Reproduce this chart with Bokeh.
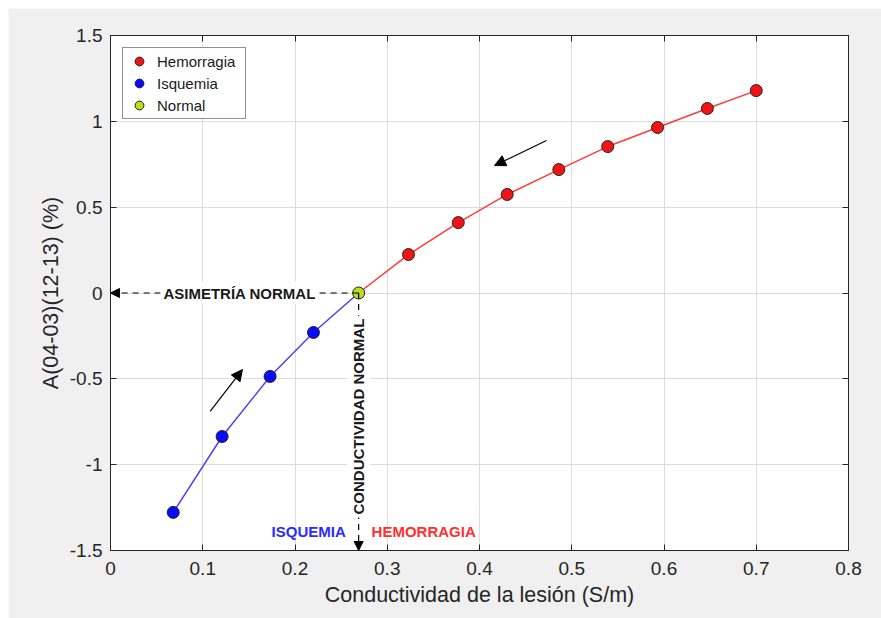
from bokeh.plotting import figure
from bokeh.models import Range1d, FixedTicker, LinearAxis, Label, Arrow, NormalHead
from bokeh.embed import file_html
from bokeh.resources import INLINE
import math

# ---- data ----
isq_x = [0.068, 0.121, 0.173, 0.220]
isq_y = [-1.278, -0.836, -0.486, -0.230]
norm_x = [0.269]
norm_y = [0.0]
hem_x = [0.323, 0.377, 0.430, 0.486, 0.539, 0.593, 0.647, 0.700]
hem_y = [0.224, 0.410, 0.574, 0.719, 0.853, 0.964, 1.075, 1.179]

x_ticks = [0, 0.1, 0.2, 0.3, 0.4, 0.5, 0.6, 0.7, 0.8]
x_tick_labels = ["0", "0.1", "0.2", "0.3", "0.4", "0.5", "0.6", "0.7", "0.8"]
y_ticks = [-1.5, -1, -0.5, 0, 0.5, 1, 1.5]
y_tick_labels = ["-1.5", "-1", "-0.5", "0", "0.5", "1", "1.5"]

# direction arrows (start x, start y, end x, end y)
arrow_up = [0.108, -0.69, 0.143, -0.446]
arrow_down = [0.4726, 0.888, 0.4163, 0.7426]

FONT = "Liberation Sans"
AX = "#262626"

p = figure(width=873, height=610, output_backend="svg", toolbar_location=None,
           x_range=Range1d(0, 0.8), y_range=Range1d(-1.5, 1.5),
           min_border_left=102, min_border_top=27, min_border_right=33,
           min_border_bottom=68)
p.margin = (8, 0, 0, 8)
p.border_fill_color = "#f0f0f0"
p.background_fill_color = "white"
p.outline_line_color = AX
p.outline_line_width = 1

p.xaxis.ticker = FixedTicker(ticks=x_ticks)
p.yaxis.ticker = FixedTicker(ticks=y_ticks)
p.xaxis.major_label_overrides = {t: l for t, l in zip(x_ticks, x_tick_labels)}
p.yaxis.major_label_overrides = {t: l for t, l in zip(y_ticks, y_tick_labels)}
p.xaxis.axis_label = "Conductividad de la lesión (S/m)"
p.yaxis.axis_label = "A(04-03)(12-13) (%)"

for ax in [p.xaxis[0], p.yaxis[0]]:
    ax.major_label_text_font = FONT
    ax.major_label_text_font_size = "19px"
    ax.major_label_text_color = AX
    ax.axis_label_text_font = FONT
    ax.axis_label_text_font_size = "21.5px"
    ax.axis_label_text_font_style = "normal"
    ax.axis_label_text_color = AX
    ax.axis_line_color = AX
    ax.major_tick_line_color = AX
    ax.major_tick_in = 6
    ax.major_tick_out = 0
    ax.minor_tick_line_color = None
p.xaxis.major_label_standoff = 11
p.xaxis.axis_label_standoff = 5
p.yaxis.major_label_standoff = 8
p.yaxis.axis_label_standoff = 4

for side, tk in [("above", x_ticks), ("right", y_ticks)]:
    a = LinearAxis(ticker=FixedTicker(ticks=tk), major_label_text_font_size="1px",
                   major_label_text_color=None,
                   major_label_standoff=0, major_tick_in=6, major_tick_out=0,
                   minor_tick_line_color=None, axis_line_color=AX,
                   major_tick_line_color=AX)
    p.add_layout(a, side)

p.grid.grid_line_color = "#dcdcdc"
p.grid.grid_line_width = 1

# lines
p.line(isq_x + norm_x, isq_y + norm_y, line_color="#5a3cf0", line_width=1.5)
p.line(norm_x + hem_x, norm_y + hem_y, line_color="#ff3b3b", line_width=1.5)

# dashed guide arrows
p.add_layout(Arrow(end=NormalHead(size=9, fill_color="black", line_color="black"),
                   x_start=norm_x[0], y_start=norm_y[0], x_end=0, y_end=norm_y[0],
                   line_dash="6 5", line_width=1.2, line_color="black"))
p.add_layout(Arrow(end=NormalHead(size=9, fill_color="black", line_color="black"),
                   x_start=norm_x[0], y_start=norm_y[0], x_end=norm_x[0], y_end=-1.5,
                   line_dash="6 5", line_width=1.2, line_color="black"))

# direction arrows
for a in [arrow_up, arrow_down]:
    p.add_layout(Arrow(end=NormalHead(size=11, fill_color="black", line_color="black"),
                       x_start=a[0], y_start=a[1], x_end=a[2], y_end=a[3],
                       line_width=1.2, line_color="black"))

# markers
p.scatter(hem_x, hem_y, marker="circle", size=12, fill_color="#f01414",
          line_color="#222222", line_width=1, legend_label="Hemorragia")
p.scatter(isq_x, isq_y, marker="circle", size=12, fill_color="#0a0aff",
          line_color="#222222", line_width=1, legend_label="Isquemia")
p.scatter(norm_x, norm_y, marker="circle", size=12, fill_color="#b8e01e",
          line_color="#222222", line_width=1, legend_label="Normal")

# text annotations
p.add_layout(Label(x=0.14, y=0, text="ASIMETRÍA NORMAL", text_font=FONT,
                   text_font_size="15px", text_font_style="bold", text_color="#1a1a1a",
                   text_align="center", text_baseline="middle",
                   background_fill_color="white", padding=3))
p.add_layout(Label(x=norm_x[0], y=-0.72, text="CONDUCTIVIDAD NORMAL", angle=math.pi / 2,
                   text_font=FONT, text_font_size="15px", text_font_style="bold",
                   text_color="#1a1a1a", text_align="center", text_baseline="middle",
                   background_fill_color="white", padding=3))
p.add_layout(Label(x=0.255, y=-1.39, text="ISQUEMIA", text_font=FONT,
                   text_font_size="15px", text_font_style="bold", text_color="#2b2bff",
                   text_align="right", text_baseline="middle"))
p.add_layout(Label(x=0.283, y=-1.39, text="HEMORRAGIA", text_font=FONT,
                   text_font_size="15px", text_font_style="bold", text_color="#ff3030",
                   text_align="left", text_baseline="middle"))

lg = p.legend[0]
lg.location = "top_left"
lg.margin = 12
lg.padding = 2
lg.spacing = 0
lg.glyph_height = 22
lg.glyph_width = 28
lg.label_height = 22
lg.label_width = 86
lg.label_standoff = 4
lg.label_text_font = FONT
lg.label_text_font_size = "15px"
lg.label_text_color = "#1a1a1a"
lg.border_line_color = "#222222"
lg.border_line_width = 1
lg.background_fill_alpha = 1

open("out.html", "w").write(file_html(p, INLINE))
